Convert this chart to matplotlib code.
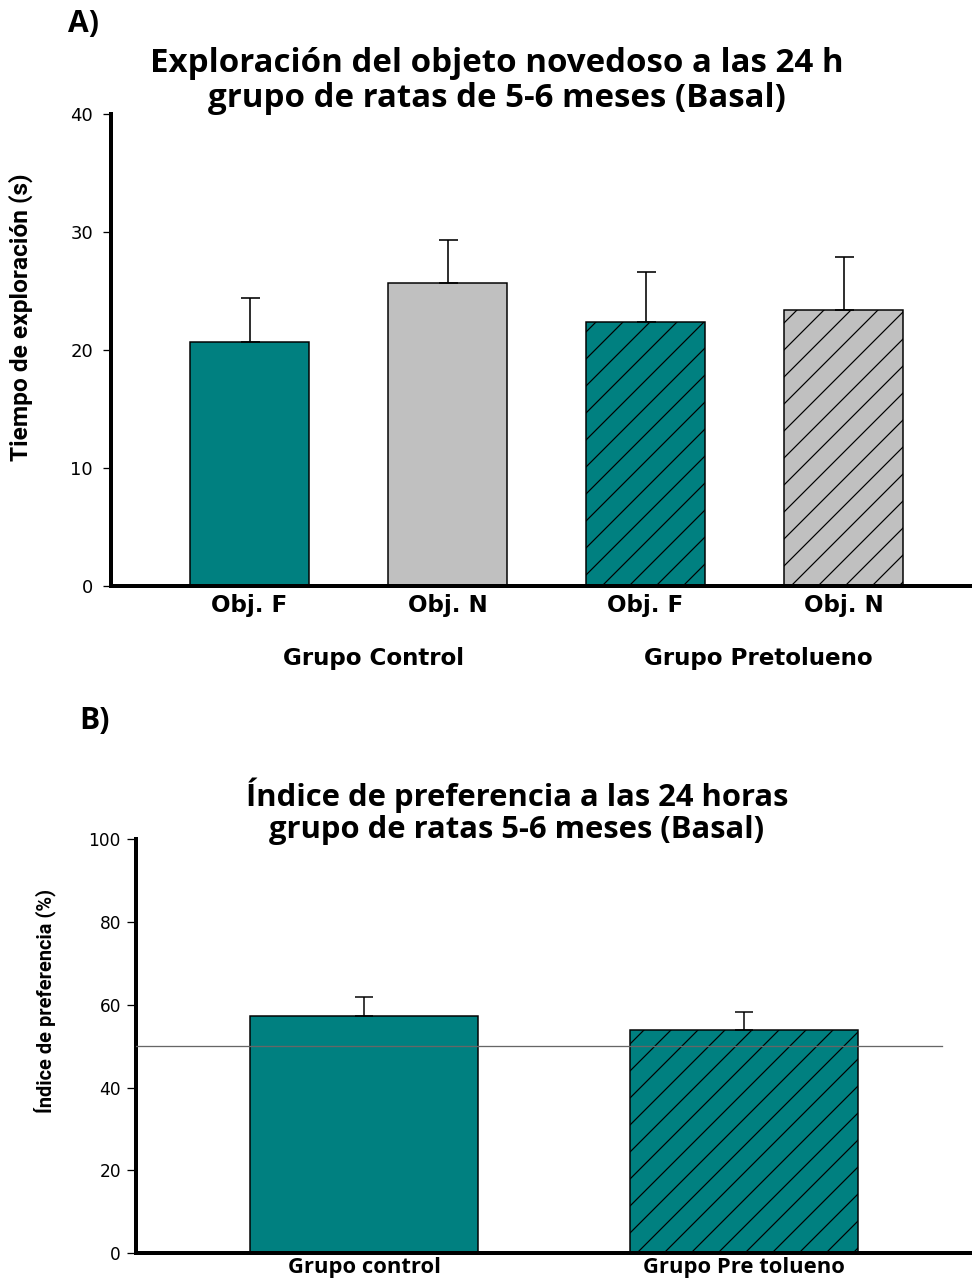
import matplotlib.pyplot as plt
import numpy as np

# Panel A: exploración a las 24 h
objetos = ['Obj. F', 'Obj. N', 'Obj. F', 'Obj. N']
tiempo = [20.7, 25.7, 22.35, 23.4]
tiempo_sem = [3.7, 3.65, 4.3, 4.5]
colores_a = ['#008080', '#C0C0C0', '#008080', '#C0C0C0']
tramas_a = ['', '', '//', '//']
grupos_a = ['Grupo Control', 'Grupo Pretolueno']
pos_grupos_a = [0.626, 2.57]

# Panel B: índice de preferencia
grupos_b = ['Grupo control', 'Grupo Pre tolueno']
indice = [57.35, 53.9]
indice_sem = [4.45, 4.3]
tramas_b = ['', '//']
azar = 50

# la trama sale más espaciada con un dpi alto; tamaños dados en píxeles
DPI = 162


def pt(px):
    return px * 72.0 / DPI


plt.rcParams['hatch.linewidth'] = pt(1.2)

fig = plt.figure(figsize=(972 / DPI, 1285 / DPI), dpi=DPI)


def estilo_ejes(ax, largo_tick):
    for s in ['top', 'right']:
        ax.spines[s].set_visible(False)
    for s in ['left', 'bottom']:
        ax.spines[s].set_linewidth(pt(4))
    ax.tick_params(axis='x', length=0)
    ax.tick_params(axis='y', length=pt(largo_tick), width=pt(1.3), direction='out')


# ---------- A ----------
ax1 = fig.add_axes([0.1142, 0.544, 0.884, 0.3673])
x = np.arange(len(objetos))
ax1.bar(x, tiempo, width=0.6, color=colores_a, edgecolor='black',
        linewidth=pt(1.5), hatch=tramas_a, zorder=2)
ax1.errorbar(x, tiempo, yerr=[np.zeros(len(x)), tiempo_sem], fmt='none',
             ecolor='black', elinewidth=pt(1.6), capsize=pt(9.5),
             capthick=pt(1.6), zorder=3)
ax1.set_xlim(-0.70, 3.64)
ax1.set_ylim(0, 40)
ax1.set_yticks([0, 10, 20, 30, 40])
ax1.set_xticks(x)
ax1.set_xticklabels(objetos, fontsize=pt(23), fontweight='bold', family='DejaVu Sans')
estilo_ejes(ax1, 8)
ax1.tick_params(axis='x', pad=pt(8))
ax1.tick_params(axis='y', pad=pt(10), labelsize=pt(18))
ax1.set_ylabel('Tiempo de exploración (s)', fontsize=pt(24.5), fontweight='bold',
               family='Roboto')
ax1.yaxis.set_label_coords(-0.091, 0.57)
for gx, g in zip(pos_grupos_a, grupos_a):
    ax1.text(gx, -0.153, g, transform=ax1.get_xaxis_transform(),
             ha='center', va='center', fontsize=pt(23), fontweight='bold',
             family='DejaVu Sans')

fig.text(497 / 972, 1 - 81 / 1285,
         'Exploración del objeto novedoso a las 24 h\ngrupo de ratas de 5-6 meses (Basal)',
         ha='center', va='center', fontsize=pt(33), fontweight='bold',
         family='Open Sans', linespacing=1.05)
fig.text(84 / 972, 1 - 24 / 1285, 'A)', fontsize=pt(30), fontweight='bold',
         family='Open Sans', ha='center', va='center')

# ---------- B ----------
ax2 = fig.add_axes([0.1399, 0.0249, 0.8601, 0.3219])
xb = np.arange(len(grupos_b))
ax2.bar(xb, indice, width=0.6, color='#008080', edgecolor='black',
        linewidth=pt(1.5), hatch=tramas_b, zorder=2)
ax2.errorbar(xb, indice, yerr=[np.zeros(len(xb)), indice_sem], fmt='none',
             ecolor='black', elinewidth=pt(1.5), capsize=pt(9.3),
             capthick=pt(1.5), zorder=3)
ax2.plot([-0.6, 1.52], [azar, azar], color='#666666', linewidth=pt(1.3), zorder=4)
ax2.set_xlim(-0.6, 1.6)
ax2.set_ylim(0, 100)
ax2.set_yticks([0, 20, 40, 60, 80, 100])
ax2.set_xticks(xb)
ax2.set_xticklabels(grupos_b, fontsize=pt(22), fontweight='bold', family='Open Sans')
estilo_ejes(ax2, 9)
ax2.tick_params(axis='x', pad=pt(4))
ax2.tick_params(axis='y', pad=pt(6), labelsize=pt(17))
ax2.set_ylabel('Índice de preferencia (%)', fontsize=pt(20), fontweight='bold',
               family='Roboto')
ax2.yaxis.set_label_coords(-0.096, 0.61)

fig.text(517 / 972, 1 - 811 / 1285,
         'Índice de preferencia a las 24 horas\ngrupo de ratas 5-6 meses (Basal)',
         ha='center', va='center', fontsize=pt(31), fontweight='bold',
         family='Open Sans', linespacing=1.1)
fig.text(95 / 972, 1 - 721 / 1285, 'B)', fontsize=pt(30), fontweight='bold',
         family='Open Sans', ha='center', va='center')

fig.savefig('out.png', dpi=DPI)
